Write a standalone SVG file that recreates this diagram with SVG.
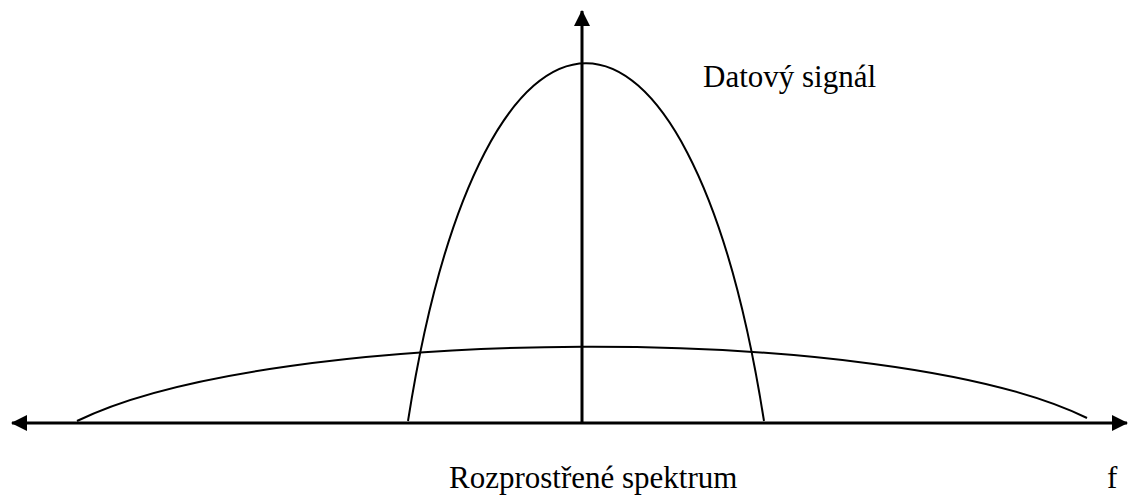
<svg xmlns="http://www.w3.org/2000/svg" width="1129" height="499" viewBox="0 0 1129 499">
<style>
.curve{fill:none;stroke:#000;stroke-width:2}
.axis{fill:none;stroke:#000;stroke-width:3}
.lbl{font-family:"Liberation Serif","Times New Roman",serif;font-size:31px;fill:#000}
</style>
<defs>
<marker id="ah" viewBox="0 0 16 16" refX="15" refY="8" markerWidth="16" markerHeight="16" markerUnits="userSpaceOnUse" orient="auto-start-reverse">
<path d="M0,0 L16,8 L0,16 Z" fill="#000"/>
</marker>
</defs>
<rect width="1129" height="499" fill="#fff"/>
<g id="connectors">
<line class="axis" x1="12" y1="423" x2="1127" y2="423" marker-start="url(#ah)" marker-end="url(#ah)"/>
<line class="axis" x1="582" y1="423" x2="582" y2="11" marker-end="url(#ah)"/>
</g>
<g id="data-signal">
<path class="curve" d="M408,421 C483,-56 689,-56 764,421"/>
<text class="lbl" x="703" y="87">Datový signál</text>
</g>
<g id="spread-spectrum">
<path class="curve" d="M77,421 C274,324 890,321 1087,418"/>
<text class="lbl" x="449" y="488">Rozprostřené spektrum</text>
</g>
<g id="f-label">
<text class="lbl" x="1107" y="488">f</text>
</g>
</svg>
